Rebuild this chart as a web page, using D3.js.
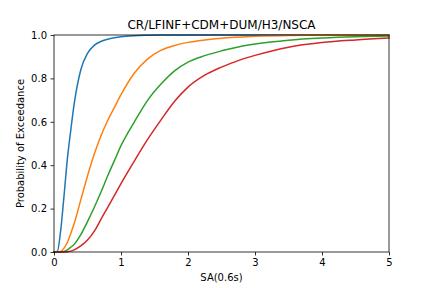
<!DOCTYPE html>
<html>
<head>
<meta charset="utf-8">
<script src="https://cdn.jsdelivr.net/npm/d3@7"></script>
<style>
  body { margin: 0; background: #fff; }
  svg text { font-family: "DejaVu Sans", sans-serif; }
</style>
</head>
<body>
<div id="chart"></div>
<script>
// SA values the curves were read at
let sa = [0, 0.05, 0.1, 0.15, 0.2, 0.25, 0.3, 0.4, 0.5, 0.6, 0.7, 0.8, 0.9, 1.0,
          1.2, 1.4, 1.6, 1.8, 2.0, 2.25, 2.5, 2.75, 3.0, 3.5, 4.0, 4.5, 5.0]

// probability of exceedance, one list per damage state
let ds1 = [0, 0.003, 0.1, 0.26, 0.43, 0.56, 0.68, 0.84, 0.915, 0.952, 0.97, 0.98, 0.987, 0.992,
           0.997, 0.999, 1, 1, 1, 1, 1, 1, 1, 1, 1, 1, 1]
let ds2 = [0, 0, 0.003, 0.018, 0.045, 0.085, 0.13, 0.24, 0.35, 0.45, 0.535, 0.605, 0.665, 0.725,
           0.825, 0.89, 0.93, 0.952, 0.966, 0.977, 0.985, 0.99, 0.994, 0.998, 0.999, 1, 1]
let ds3 = [0, 0, 0, 0.003, 0.01, 0.022, 0.035, 0.08, 0.14, 0.205, 0.275, 0.35, 0.42, 0.49,
           0.6, 0.7, 0.775, 0.835, 0.875, 0.905, 0.927, 0.945, 0.958, 0.976, 0.986, 0.992, 0.995]
let ds4 = [0, 0, 0, 0, 0.001, 0.004, 0.01, 0.028, 0.055, 0.095, 0.15, 0.205, 0.26, 0.315,
           0.42, 0.52, 0.61, 0.695, 0.76, 0.815, 0.852, 0.882, 0.906, 0.944, 0.965, 0.977, 0.986]

let series = [ds1, ds2, ds3, ds4]
let colors = ['#1f77b4', '#ff7f0e', '#2ca02c', '#d62728']

let xTicks = [0, 1, 2, 3, 4, 5]
let yTicks = [0, 0.2, 0.4, 0.6, 0.8, 1.0]

let width = 432, height = 288
let margin = {top: 35, right: 43, bottom: 36, left: 54}

let svg = d3.select('#chart').append('svg')
    .attr('width', width)
    .attr('height', height)

let x = d3.scaleLinear().domain([0, 5]).range([margin.left, width - margin.right])
let y = d3.scaleLinear().domain([0, 1]).range([height - margin.bottom, margin.top])

let line = d3.line()
    .curve(d3.curveMonotoneX)
    .x(function(d, i){ return x(sa[i]) })
    .y(function(d){ return y(d) })

svg.append('g')
    .selectAll('path')
    .data(series)
    .enter()
    .append('path')
    .attr('d', line)
    .attr('fill', 'none')
    .attr('stroke', function(d, i){ return colors[i] })
    .attr('stroke-width', 1.5)
    .attr('stroke-linejoin', 'round')
    .attr('stroke-linecap', 'square')

// frame
svg.append('rect')
    .attr('x', x(0))
    .attr('y', y(1))
    .attr('width', x(5) - x(0))
    .attr('height', y(0) - y(1))
    .attr('fill', 'none')
    .attr('stroke', '#000')
    .attr('stroke-width', 0.8)

let xAxis = svg.append('g')
    .attr('transform', 'translate(0,' + y(0) + ')')
    .call(d3.axisBottom(x).tickValues(xTicks).tickFormat(d3.format('d')).tickSize(3.5).tickPadding(3.5))

let yAxis = svg.append('g')
    .attr('transform', 'translate(' + x(0) + ',0)')
    .call(d3.axisLeft(y).tickValues(yTicks).tickFormat(d3.format('.1f')).tickSize(3.5).tickPadding(3.5))

;[xAxis, yAxis].forEach(function(a){
    a.select('.domain').remove()
    a.selectAll('.tick line').attr('stroke', '#000').attr('stroke-width', 0.8)
    a.selectAll('.tick text')
        .attr('fill', '#000')
        .attr('font-size', 10)
        .attr('font-family', '"DejaVu Sans", sans-serif')
})

svg.append('text')
    .attr('x', (x(0) + x(5)) / 2)
    .attr('y', 29)
    .attr('text-anchor', 'middle')
    .attr('font-size', 12)
    .text('CR/LFINF+CDM+DUM/H3/NSCA')

svg.append('text')
    .attr('x', (x(0) + x(5)) / 2)
    .attr('y', 281)
    .attr('text-anchor', 'middle')
    .attr('font-size', 10)
    .text('SA(0.6s)')

svg.append('text')
    .attr('transform', 'translate(24,' + ((y(0) + y(1)) / 2) + ') rotate(-90)')
    .attr('text-anchor', 'middle')
    .attr('font-size', 10)
    .text('Probability of Exceedance')
</script>
</body>
</html>
